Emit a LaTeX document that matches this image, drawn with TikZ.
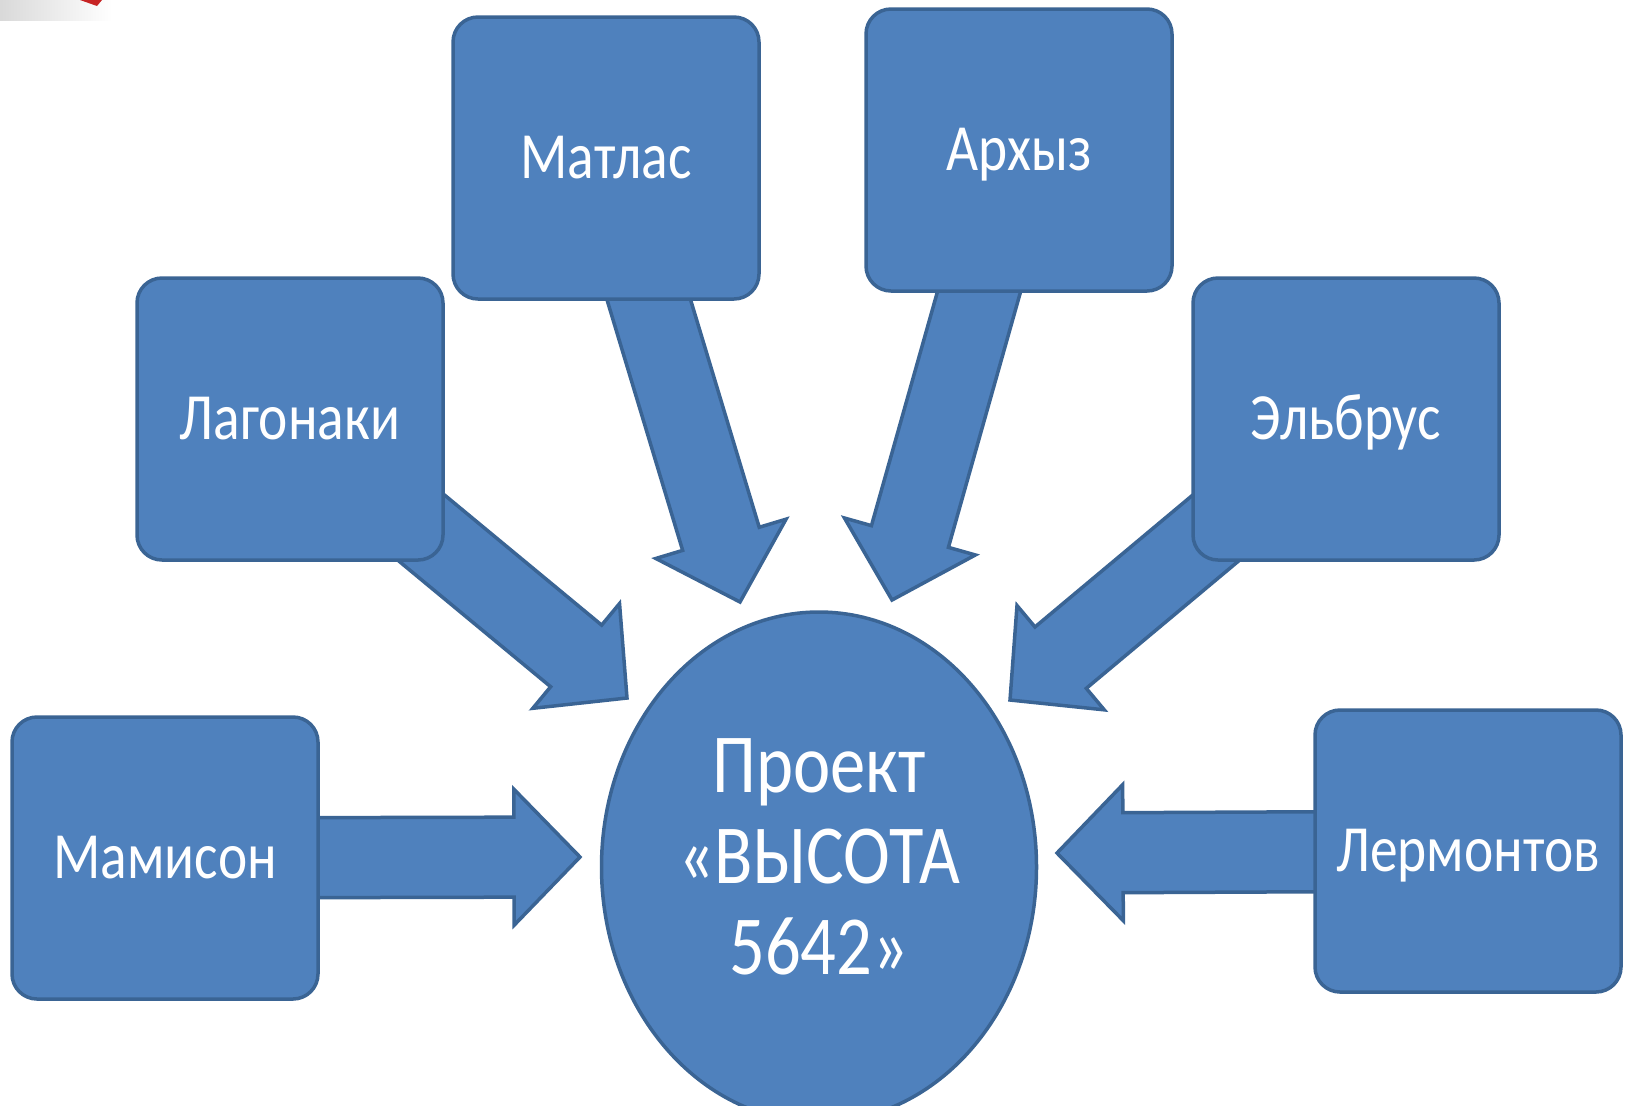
\documentclass[tikz,border=0pt]{standalone}
\usepackage{fontspec}
\setmainfont[FakeStretch=0.84]{Carlito}
\usetikzlibrary{calc,shapes.geometric,backgrounds}
\definecolor{fillblue}{HTML}{4F81BD}
\definecolor{lineblue}{HTML}{3A6494}
\newcommand\blockarrow[2]{%
  \coordinate (ab) at ($(#2)!33pt!(#1)$);
  \filldraw[arrowshape] ($(#1)!20pt!90:(#2)$) -- ($(ab)!20pt!90:(#2)$) -- ($(ab)!34pt!90:(#2)$) -- (#2)
    -- ($(ab)!34pt!-90:(#2)$) -- ($(ab)!20pt!-90:(#2)$) -- ($(#1)!20pt!-90:(#2)$) -- cycle;}
\begin{document}
\begin{tikzpicture}[x=0.5pt,y=-0.5pt,
  boxnode/.style={draw=lineblue, fill=fillblue, line width=1.75pt, rounded corners=12.5pt,
    minimum width=153pt, minimum height=141pt, inner sep=0pt, text=white,
    font=\fontsize{33}{40}\selectfont, text height=20.9pt, text depth=0pt},
  arrowshape/.style={draw=lineblue, fill=fillblue, line width=1.75pt, line join=miter},
  centernode/.style={ellipse, draw=lineblue, fill=fillblue, line width=1.75pt,
    minimum width=217.5pt, minimum height=255pt, inner sep=0pt},
  centertext/.style={text=white, align=center, font=\fontsize{42}{45.5}\selectfont, inner sep=0pt}]
\useasboundingbox (0,0) rectangle (1627,1105);
% faint fragment at the top-left corner
\shade[left color=gray!30, right color=white] (0,0) rectangle (112,20);
\fill[red!75!black, opacity=.85] (80,0) -- (102,0) -- (97,6) -- cycle;
% nodes
\node[boxnode] (matlas) at (606,158) {Матлас};
\node[boxnode] (arkhyz) at (1019,150) {Архыз};
\node[boxnode] (lagonaki) at (290,419) {Лагонаки};
\node[boxnode] (elbrus) at (1346,419) {Эльбрус};
\node[boxnode] (mamison) at (165,858) {Мамисон};
\node[boxnode] (lermontov) at (1468,851) {Лермонтов};
\node[centernode] (proj) at (819,867) {};
\node[centertext] (projtext) at (819,857) {Проект\\«ВЫСОТА\\5642»};
% arrow tips
\coordinate (tmatlas) at (740,602);
\coordinate (tarkhyz) at (892,600);
\coordinate (tlagonaki) at (627,698);
\coordinate (telbrus) at (1010,700);
\coordinate (tmamison) at (580,857);
\coordinate (tlermontov) at (1057,853);
\begin{pgfonlayer}{background}
\blockarrow{matlas}{tmatlas}
\blockarrow{arkhyz}{tarkhyz}
\blockarrow{lagonaki}{tlagonaki}
\blockarrow{elbrus}{telbrus}
\blockarrow{mamison}{tmamison}
\blockarrow{lermontov}{tlermontov}
\end{pgfonlayer}
\end{tikzpicture}
\end{document}
